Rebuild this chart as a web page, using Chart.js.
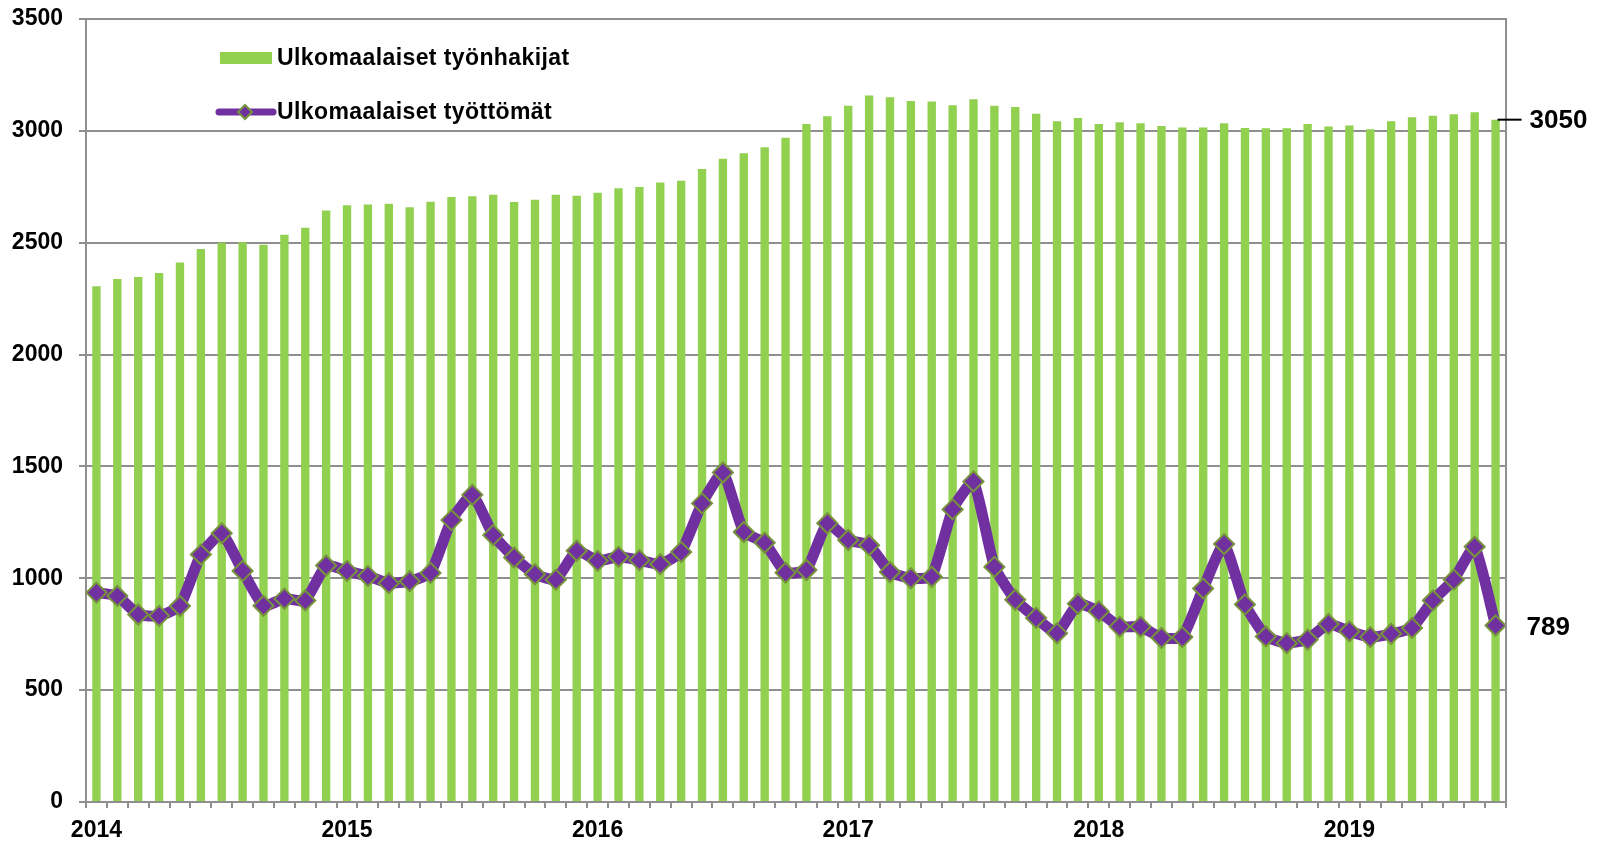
<!DOCTYPE html>
<html>
<head>
<meta charset="utf-8">
<script src="https://cdn.jsdelivr.net/npm/chart.js@4/dist/chart.umd.min.js"></script>
<style>
  html, body { margin: 0; padding: 0; background: #fff; }
  #wrap { width: 1606px; height: 842px; }
</style>
</head>
<body>
<div id="wrap"><canvas id="myChart" width="1606" height="842"></canvas></div>
<script>
// Years shown on the axis, monthly from Jan 2014 to Aug 2019
const years = [2014, 2015, 2016, 2017, 2018, 2019];
const lastMonth = 8;

// Ulkomaalaiset työnhakijat (bars)
const jobSeekers = [
  2305, 2338, 2347, 2365, 2412, 2472, 2500, 2502, 2491, 2536, 2567, 2644,
  2668, 2671, 2674, 2659, 2683, 2704, 2708, 2714, 2682, 2692, 2714, 2710,
  2723, 2744, 2749, 2769, 2777, 2830, 2875, 2900, 2927, 2969, 3031, 3065,
  3112, 3158, 3150, 3134, 3131, 3115, 3141, 3112, 3107, 3076, 3043, 3058,
  3031, 3039, 3034, 3022, 3015, 3015, 3034, 3013, 3012, 3012, 3031, 3019,
  3024, 3007, 3043, 3061, 3067, 3074, 3083, 3050
];

// Ulkomaalaiset työttömät (line)
const unemployed = [
  936, 921, 838, 832, 876, 1106, 1201, 1033, 877, 909, 901, 1057,
  1033, 1010, 978, 987, 1024, 1260, 1373, 1193, 1093, 1018, 994, 1123,
  1078, 1096, 1081, 1063, 1118, 1335, 1473, 1207, 1159, 1025, 1037, 1246,
  1171, 1148, 1028, 1000, 1007, 1308, 1433, 1051, 904, 823, 754, 886,
  852, 784, 784, 734, 737, 954, 1153, 883, 740, 710, 726, 796,
  763, 737, 752, 778, 901, 994, 1141, 789
];

const seriesNames = ["Ulkomaalaiset työnhakijat", "Ulkomaalaiset työttömät"];

// month labels like 2014-01
const months = [];
years.forEach(y => {
  const n = y === years[years.length - 1] ? lastMonth : 12;
  for (let m = 1; m <= n; m++) months.push(y + "-" + String(m).padStart(2, "0"));
});

const green = "#92D050";
const purple = "#7030A0";
const olive = "#77933C";
const gridGray = "#8f8f8f";
const fontFam = "'Liberation Sans', Arial, sans-serif";

// frame, legend and end labels
const extras = {
  id: "extras",
  afterDraw(chart) {
    const ctx = chart.ctx;
    const a = chart.chartArea;
    const xs = chart.scales.x;
    const ys = chart.scales.y;
    ctx.save();

    // plot frame (top and right sides)
    ctx.strokeStyle = gridGray;
    ctx.lineWidth = 2;
    ctx.beginPath();
    ctx.moveTo(a.left, a.top);
    ctx.lineTo(a.right, a.top);
    ctx.lineTo(a.right, a.bottom);
    ctx.stroke();

    // legend
    ctx.letterSpacing = "0.4px";
    ctx.font = "bold 23px " + fontFam;
    ctx.textBaseline = "middle";
    ctx.fillStyle = green;
    ctx.fillRect(220, 52, 52, 12);
    ctx.fillStyle = "#000";
    ctx.fillText(seriesNames[0], 277, 59);

    ctx.strokeStyle = purple;
    ctx.lineWidth = 7;
    ctx.lineCap = "round";
    ctx.beginPath();
    ctx.moveTo(219, 112);
    ctx.lineTo(273, 112);
    ctx.stroke();
    ctx.beginPath();
    ctx.moveTo(245, 105);
    ctx.lineTo(252, 112);
    ctx.lineTo(245, 119);
    ctx.lineTo(238, 112);
    ctx.closePath();
    ctx.fillStyle = purple;
    ctx.fill();
    ctx.strokeStyle = olive;
    ctx.lineWidth = 2;
    ctx.stroke();
    ctx.fillStyle = "#000";
    ctx.fillText(seriesNames[1], 277, 113);

    // last values
    const last = months.length - 1;
    const lx = xs.getPixelForValue(last);
    const yBar = ys.getPixelForValue(jobSeekers[last]);
    const yLine = ys.getPixelForValue(unemployed[last]);
    ctx.strokeStyle = "#000";
    ctx.lineWidth = 2;
    ctx.lineCap = "butt";
    ctx.beginPath();
    ctx.moveTo(lx + 2, yBar);
    ctx.lineTo(lx + 26, yBar);
    ctx.stroke();
    ctx.letterSpacing = "0px";
    ctx.font = "bold 26px " + fontFam;
    ctx.fillText(String(jobSeekers[last]), lx + 34, yBar + 1);
    ctx.fillText(String(unemployed[last]), lx + 31, yLine + 2);

    ctx.restore();
  }
};

const ctx = document.getElementById("myChart").getContext("2d");
const myChart = new Chart(ctx, {
  type: "bar",
  data: {
    labels: months,
    datasets: [
      {
        type: "line",
        label: seriesNames[1],
        data: unemployed,
        borderColor: purple,
        borderWidth: 11,
        borderJoinStyle: "round",
        borderCapStyle: "round",
        tension: 0.15,
        pointStyle: "rectRot",
        pointRadius: 10,
        pointBackgroundColor: purple,
        pointBorderColor: olive,
        pointBorderWidth: 2,
        order: 0
      },
      {
        label: seriesNames[0],
        data: jobSeekers,
        backgroundColor: green,
        borderWidth: 0,
        barPercentage: 0.4,
        categoryPercentage: 1,
        order: 1
      }
    ]
  },
  options: {
    responsive: false,
    animation: false,
    layout: { padding: { top: 19, right: 100, left: 0, bottom: 0 } },
    plugins: {
      legend: { display: false },
      tooltip: { enabled: false }
    },
    scales: {
      x: {
        offset: true,
        afterFit: scale => {
          scale.height = 40;
          scale.paddingLeft = 0;
          scale.paddingRight = 0;
        },
        grid: {
          offset: true,
          drawOnChartArea: false,
          drawTicks: true,
          tickLength: 6,
          color: gridGray,
          lineWidth: 2
        },
        border: { color: gridGray, width: 2 },
        ticks: {
          autoSkip: false,
          maxRotation: 0,
          padding: 9,
          color: "#000",
          font: { family: fontFam, size: 23, weight: "bold" },
          callback: function (val) {
            const lab = this.getLabelForValue(val);
            return lab.endsWith("-01") ? lab.slice(0, 4) : "";
          }
        }
      },
      y: {
        min: 0,
        max: 3500,
        afterFit: scale => {
          scale.width = 86;
          scale.paddingTop = 0;
          scale.paddingBottom = 0;
        },
        grid: { color: gridGray, lineWidth: 2, tickLength: 7 },
        border: { color: gridGray, width: 2 },
        ticks: {
          stepSize: 500,
          padding: 16,
          color: "#000",
          font: { family: fontFam, size: 23, weight: "bold" },
          callback: val => String(val)
        }
      }
    }
  },
  plugins: [extras]
});
</script>
</body>
</html>
